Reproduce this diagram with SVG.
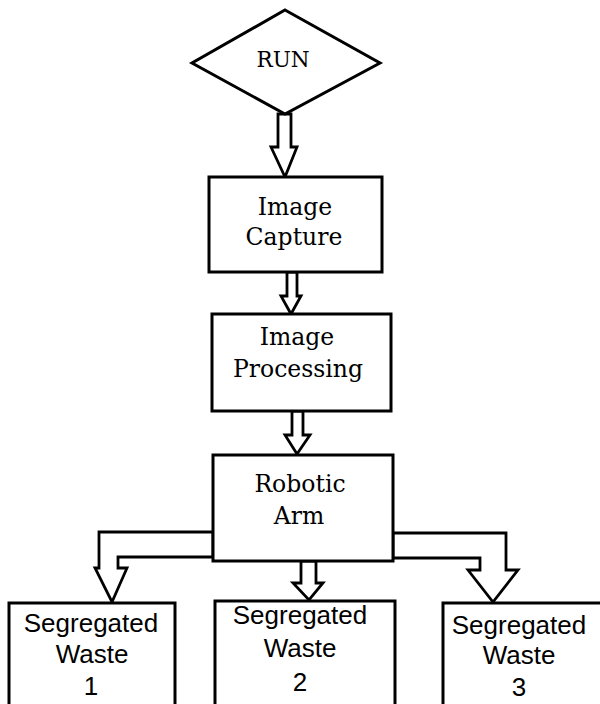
<svg xmlns="http://www.w3.org/2000/svg" width="600" height="704" viewBox="0 0 600 704">
<style>
.box{fill:#fff;stroke:#000;stroke-width:3}
.arr{fill:#fff;stroke:#000;stroke-width:2.8;stroke-linejoin:miter}
.serif{font-family:"DejaVu Serif","Liberation Serif",serif;font-size:23.5px;fill:#000;text-anchor:middle}
.sans{font-family:"Liberation Sans","Noto Sans",sans-serif;font-size:26px;fill:#000;text-anchor:middle}
</style>
<rect width="600" height="704" fill="#fff"/>
<g id="connectors">
<polygon class="arr" points="278,114 291,114 291,147 297,147 285,177 271,147 278,147"/>
<polygon class="arr" points="287,272 297,272 297,296 301,296 291,314 281,296 287,296"/>
<polygon class="arr" points="292,411 303,411 303,435 310,435 297,454 285,435 292,435"/>
<polygon class="arr" points="301,561 316,561 316,583 323,583 309,600 293,583 301,583"/>
<polygon class="arr" points="213,532 99,532 99,568 95,568 112,602 127,568 118,568 118,557 213,557"/>
<polygon class="arr" points="393,533 506,533 506,570 518,570 493,602 468,570 480,570 480,558 393,558"/>
</g>
<g id="run">
<polygon class="box" points="285,10 380,63 285,114 192,63"/>
<text class="serif" x="283" y="67" style="font-size:21.5px">RUN</text>
</g>
<g id="image-capture">
<rect class="box" x="209" y="177" width="173" height="95"/>
<text class="serif" x="295" y="215">Image</text>
<text class="serif" x="294" y="245">Capture</text>
</g>
<g id="image-processing">
<rect class="box" x="212" y="314" width="179" height="97"/>
<text class="serif" x="297" y="345">Image</text>
<text class="serif" x="298" y="377">Processing</text>
</g>
<g id="robotic-arm">
<rect class="box" x="213" y="455" width="180" height="106"/>
<text class="serif" x="300" y="492">Robotic</text>
<text class="serif" x="299" y="524">Arm</text>
</g>
<g id="waste-1">
<rect class="box" x="9" y="603" width="166" height="110"/>
<text class="sans" x="91" y="632">Segregated</text>
<text class="sans" x="92" y="663">Waste</text>
<text class="sans" x="91" y="695">1</text>
</g>
<g id="waste-2">
<rect class="box" x="215" y="601" width="180" height="110"/>
<text class="sans" x="300" y="624">Segregated</text>
<text class="sans" x="300" y="657">Waste</text>
<text class="sans" x="300" y="691">2</text>
</g>
<g id="waste-3">
<rect class="box" x="443" y="603" width="170" height="110"/>
<text class="sans" x="519" y="634">Segregated</text>
<text class="sans" x="519" y="664">Waste</text>
<text class="sans" x="519" y="696">3</text>
</g>
</svg>
